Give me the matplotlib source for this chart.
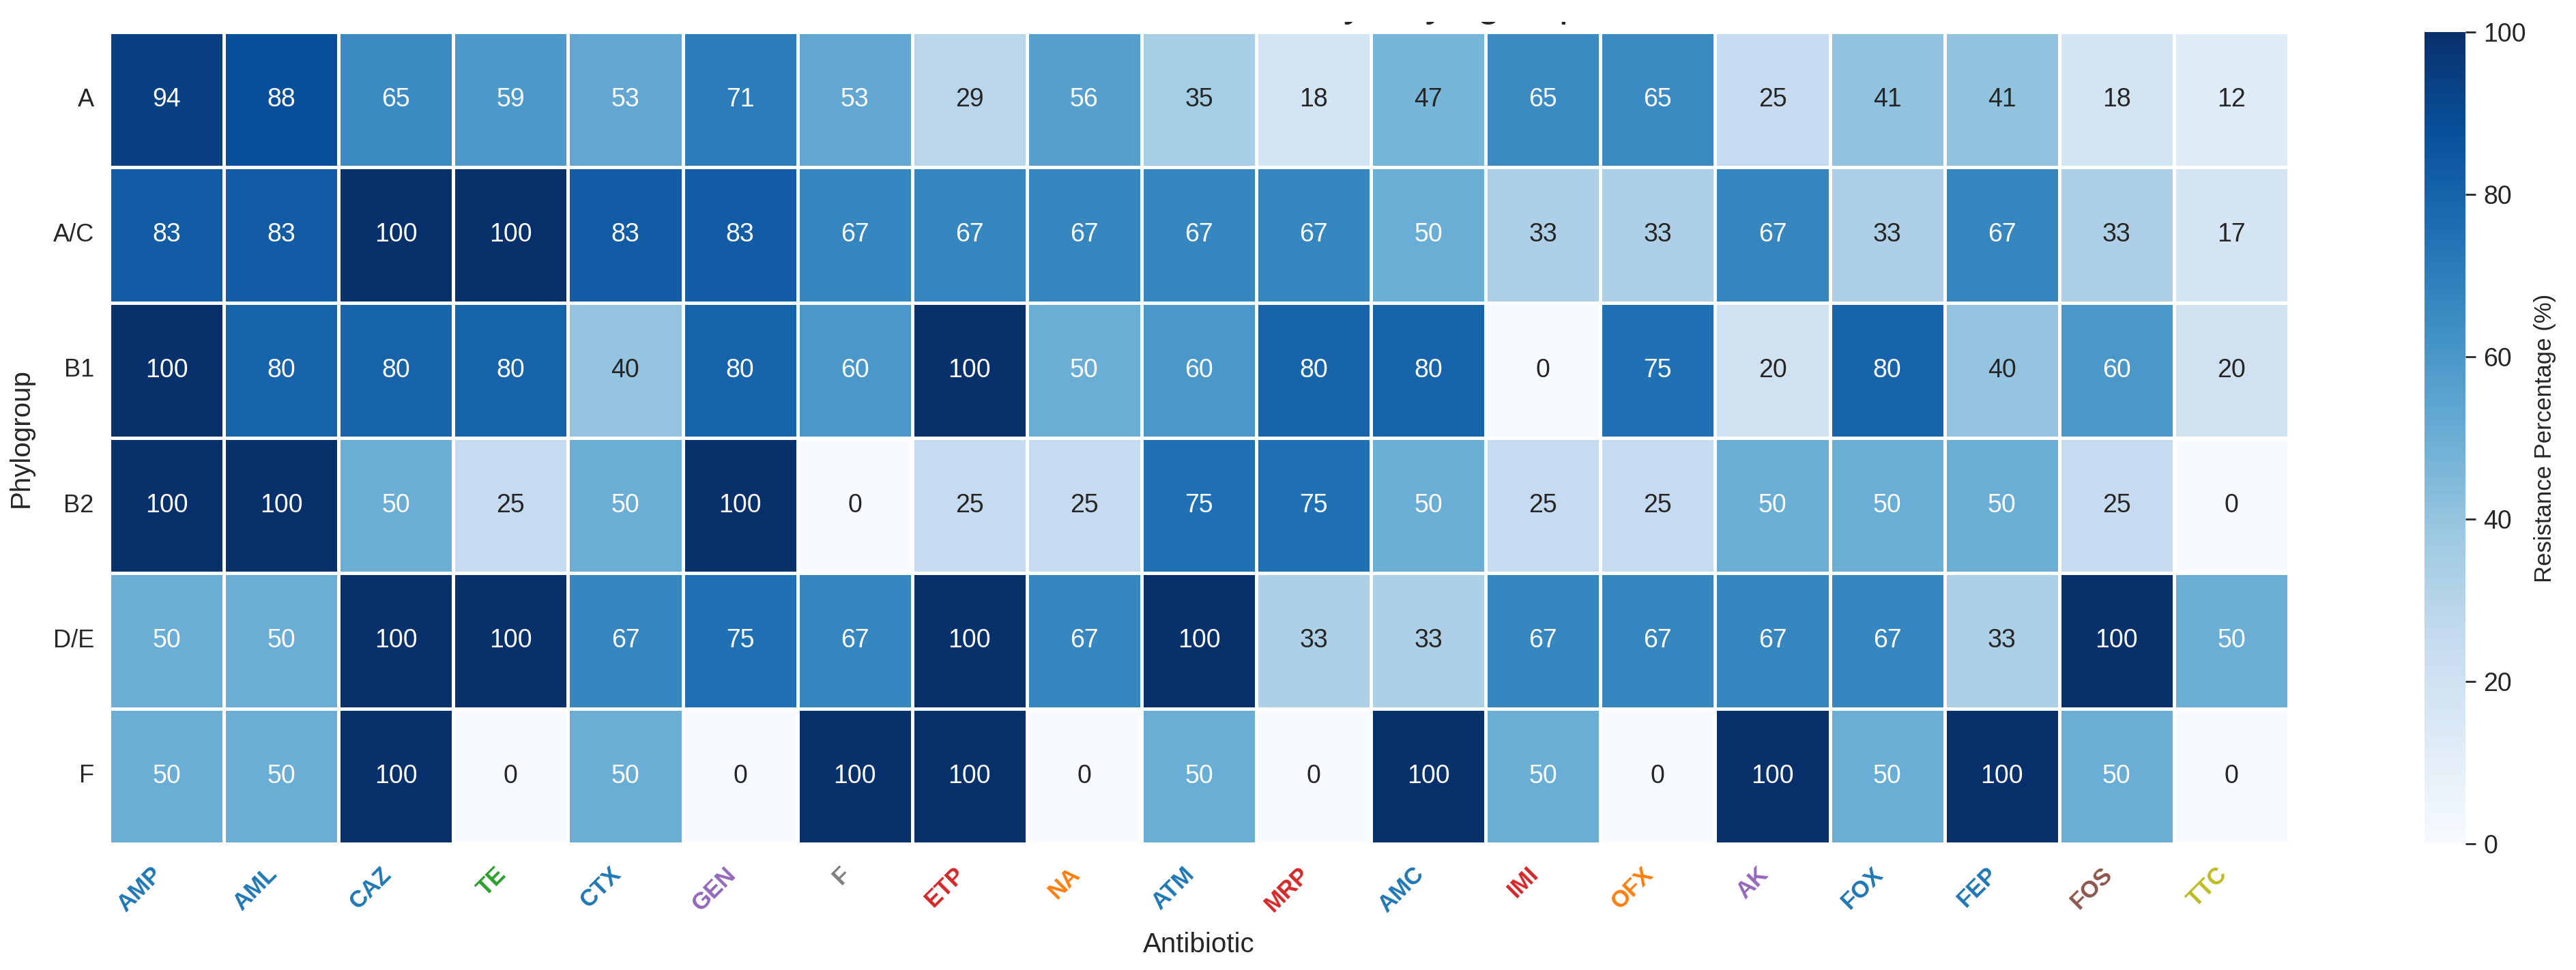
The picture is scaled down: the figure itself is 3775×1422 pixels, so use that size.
import matplotlib
matplotlib.use("Agg")
import matplotlib.pyplot as plt
from matplotlib.transforms import Bbox
import numpy as np
import pandas as pd
import seaborn as sns

# data
phylogroups = ["A", "A/C", "B1", "B2", "D/E", "F"]
antibiotics = ["AMP", "AML", "CAZ", "TE", "CTX", "GEN", "F", "ETP", "NA", "ATM",
               "MRP", "AMC", "IMI", "OFX", "AK", "FOX", "FEP", "FOS", "TTC"]
row_A = [94, 88, 65, 59, 53, 71, 53, 29, 56, 35, 18, 47, 65, 65, 25, 41, 41, 18, 12]
row_AC = [83, 83, 100, 100, 83, 83, 67, 67, 67, 67, 67, 50, 33, 33, 67, 33, 67, 33, 17]
row_B1 = [100, 80, 80, 80, 40, 80, 60, 100, 50, 60, 80, 80, 0, 75, 20, 80, 40, 60, 20]
row_B2 = [100, 100, 50, 25, 50, 100, 0, 25, 25, 75, 75, 50, 25, 25, 50, 50, 50, 25, 0]
row_DE = [50, 50, 100, 100, 67, 75, 67, 100, 67, 100, 33, 33, 67, 67, 67, 67, 33, 100, 50]
row_F = [50, 50, 100, 0, 50, 0, 100, 100, 0, 50, 0, 100, 50, 0, 100, 50, 100, 50, 0]

# antibiotic class colours used for the x tick labels
label_colors = ["#1f77b4", "#1f77b4", "#1f77b4", "#2ca02c", "#1f77b4", "#9467bd",
                "#7f7f7f", "#d62728", "#ff7f0e", "#1f77b4", "#d62728", "#1f77b4",
                "#d62728", "#ff7f0e", "#9467bd", "#1f77b4", "#1f77b4", "#8c564b",
                "#bcbd22"]

df = pd.DataFrame([row_A, row_AC, row_B1, row_B2, row_DE, row_F],
                  index=phylogroups, columns=antibiotics)

sns.set_theme(style="white")
plt.rcParams["font.family"] = ["Liberation Sans", "DejaVu Sans"]

W, H, DPI = 3775, 1422, 200
fig = plt.figure(figsize=(W / DPI, H / DPI), dpi=DPI)
ax = fig.add_axes([160 / W, 1 - 1237 / H, (3354 - 160) / W, (1237 - 47) / H])
cax = fig.add_axes([3553 / W, 1 - 1237 / H, 60 / W, (1237 - 47) / H])

sns.heatmap(df, ax=ax, cbar_ax=cax, cmap="Blues", vmin=0, vmax=100,
            annot=True, fmt=".0f", annot_kws={"fontsize": 13.5},
            linewidths=1.2, linecolor="white",
            cbar_kws={"label": "Resistance Percentage (%)"})

ax.set_xlabel("Antibiotic", fontsize=14.5, color=".15", labelpad=8)
ax.set_ylabel("Phylogroup", fontsize=14.5, color=".15", labelpad=10)
ax.tick_params(axis="y", length=0, pad=8, labelsize=13, labelcolor=".15")
ax.tick_params(axis="x", length=0, pad=10)
plt.setp(ax.get_yticklabels(), rotation=0)
plt.setp(ax.get_xticklabels(), rotation=45, ha="right", fontsize=12.5,
         fontweight="bold")
for lab, col in zip(ax.get_xticklabels(), label_colors):
    lab.set_color(col)

cax.tick_params(length=5.5, width=1, color=".15", labelsize=13.5,
                labelcolor=".15", pad=4)
cax.yaxis.label.set_size(12.5)
cax.yaxis.label.set_color(".15")

# title is cropped off in the reference: only the descender tips show
title = fig.text(0.456, 1 - 24 / H, "Antibiotic Resistance Patterns by Phylogroup",
                 ha="center", va="baseline", fontsize=21.6, color=".15")
title.set_clip_box(Bbox.from_extents(0, H - 38, W, H - 32))
title.set_clip_on(True)

fig.savefig("out.png", dpi=DPI)
